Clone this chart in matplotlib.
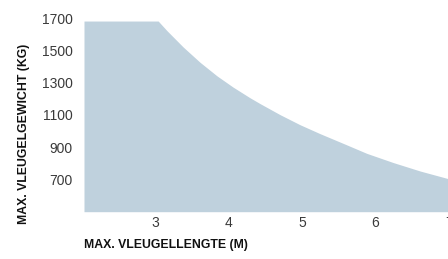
import matplotlib
matplotlib.use("Agg")
import matplotlib.pyplot as plt
from matplotlib import font_manager

lengths = [2.03, 3.04, 3.16, 3.38, 3.61, 3.84, 4.06, 4.29, 4.43, 4.70, 4.97,
           5.24, 5.58, 5.88, 6.24, 6.61, 6.99, 7.0]
weights = [1683, 1683, 1623, 1522, 1427, 1343, 1273, 1207, 1170, 1102, 1040,
           985, 920, 862, 805, 752, 705, 704]
x_ticks = [3, 4, 5, 6, 7]
y_ticks = [700, 900, 1100, 1300, 1500, 1700]
x_label = "MAX. VLEUGELLENGTE (M)"
y_label = "MAX. VLEUGELGEWICHT (KG)"

names = {f.name for f in font_manager.fontManager.ttflist}
narrow = "Liberation Sans Narrow" if "Liberation Sans Narrow" in names else "Liberation Sans"
lab_size = 10 if narrow != "Liberation Sans" else 8.8

fig = plt.figure(figsize=(4.48, 2.59), dpi=100)
ax = fig.add_axes([84 / 448, (259 - 211.7) / 259, 365 / 448, 193.4 / 259])
ax.fill_between(lengths, weights, 500, color="#bfd1dd", linewidth=0)
ax.set_xlim(2.03, 7.0)
ax.set_ylim(500, 1700)
ax.set_xticks(x_ticks)
ax.set_yticks(y_ticks)
for s in ax.spines.values():
    s.set_visible(False)
ax.tick_params(length=0, labelsize=10, labelcolor="#3a3a3a")
ax.tick_params(axis="y", pad=8)
ax.tick_params(axis="x", pad=3)
for lab in ax.get_xticklabels() + ax.get_yticklabels():
    lab.set_fontfamily("Liberation Sans")

fig.text(84 / 448, 1 - 245 / 259, x_label, fontfamily=narrow, fontweight="bold",
         fontsize=lab_size, color="#111111", ha="left", va="center")
fig.text(24.5 / 448, 1 - 134 / 259, y_label, fontfamily=narrow, fontweight="bold",
         fontsize=lab_size, color="#111111", ha="center", va="center", rotation=90)

fig.savefig("out.png", dpi=100)
